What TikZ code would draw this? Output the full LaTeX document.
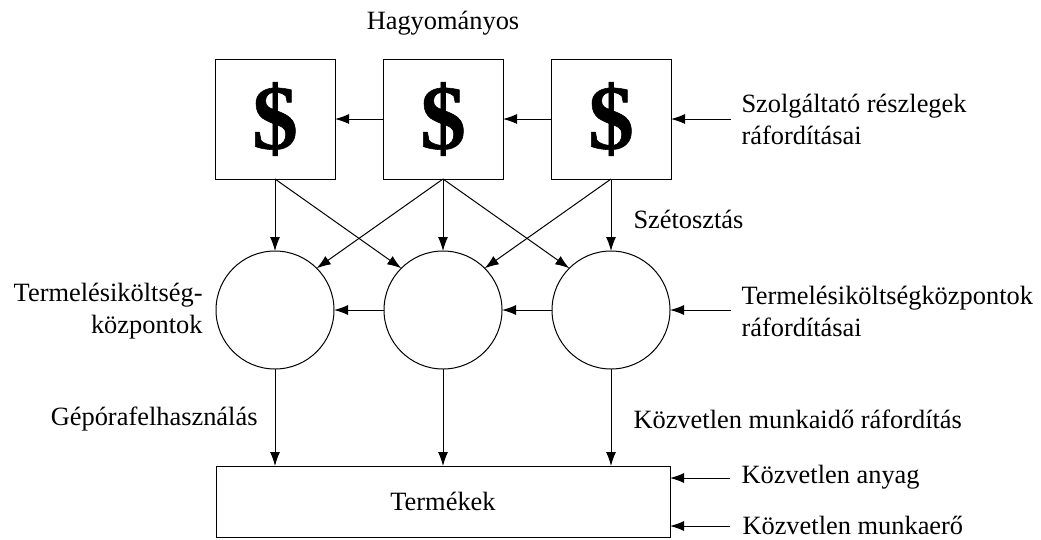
\documentclass[tikz,border=0pt]{standalone}
\usepackage{fontspec}
\setmainfont{Liberation Serif}
\newfontfamily\dollarfont[BoldFeatures={FakeBold=0.6}]{Liberation Serif}
\usetikzlibrary{arrows.meta}
\tikzset{
    costbox/.style={draw,minimum size=120pt,inner sep=0pt,outer sep=0pt,font=\fontsize{92}{92}\dollarfont\bfseries},
    center/.style={draw,circle,minimum size=118pt,inner sep=0pt,outer sep=0pt},
    lbl/.style={inner sep=0pt,font=\fontsize{26.4}{32}\selectfont},
    arr/.style={-{Latex[length=14pt,width=10pt]}},
}
\begin{document}
\begin{tikzpicture}[x=1pt,y=-1pt,line width=1pt]
        \useasboundingbox (0,0) rectangle (1041,539);
        %% service departments
        \node[costbox] (S1) at (275,119) {\$};
        \node[costbox] (S2) at (443,119) {\$};
        \node[costbox] (S3) at (611,119) {\$};
        \node[lbl] (title) at (443,23) {Hagyományos};
        \node[lbl,anchor=west,align=left] (serv) at (741,119) {Szolgáltató részlegek\\ráfordításai};
        \coordinate (servIn) at (731,119);
        \draw[arr] (servIn) -- (S3);
        \draw[arr] (S3) -- (S2);
        \draw[arr] (S2) -- (S1);
        %% production cost centres
        \node[center] (C1) at (275,310) {};
        \node[center] (C2) at (443,310) {};
        \node[center] (C3) at (611,310) {};
        \node[lbl,anchor=east,align=right] (cleft) at (203,311) {Termelésiköltség-\\központok};
        \node[lbl,anchor=west,align=left] (cright) at (741,311) {Termelésiköltségközpontok\\ráfordításai};
        \coordinate (centIn) at (731,310);
        \draw[arr] (centIn) -- (C3);
        \draw[arr] (C3) -- (C2);
        \draw[arr] (C2) -- (C1);
        %% allocation
        \draw[arr] (S1.south) -- (C1.north);
        \draw[arr] (S2.south) -- (C2.north);
        \draw[arr] (S3.south) -- (C3.north);
        \draw[arr] (S1.south) -- (C2.135);
        \draw[arr] (S2.south) -- (C3.135);
        \draw[arr] (S2.south) -- (C1.45);
        \draw[arr] (S3.south) -- (C2.45);
        \node[lbl,anchor=west] (alloc) at (633,219) {Szétosztás};
        %% products
        \node[draw,minimum width=454pt,minimum height=71pt,inner sep=0pt,outer sep=0pt,lbl] (P) at (443,501.5) {Termékek};
        \coordinate (P1) at (275,466);
        \coordinate (P2) at (443,466);
        \coordinate (P3) at (611,466);
        \draw[arr] (C1.south) -- (P1);
        \draw[arr] (C2.south) -- (P2);
        \draw[arr] (C3.south) -- (P3);
        \node[lbl,anchor=east] (mach) at (258,419) {Gépórafelhasználás};
        \node[lbl,anchor=west] (labt) at (633,419) {Közvetlen munkaidő ráfordítás};
        \node[lbl,anchor=west] (mat) at (741,477) {Közvetlen anyag};
        \node[lbl,anchor=west] (lab) at (742,525) {Közvetlen munkaerő};
        \coordinate (matIn) at (730,478);
        \coordinate (labIn) at (730,526);
        \draw[arr] (matIn) -- (P.east |- matIn);
        \draw[arr] (labIn) -- (P.east |- labIn);
    \end{tikzpicture}
\end{document}
